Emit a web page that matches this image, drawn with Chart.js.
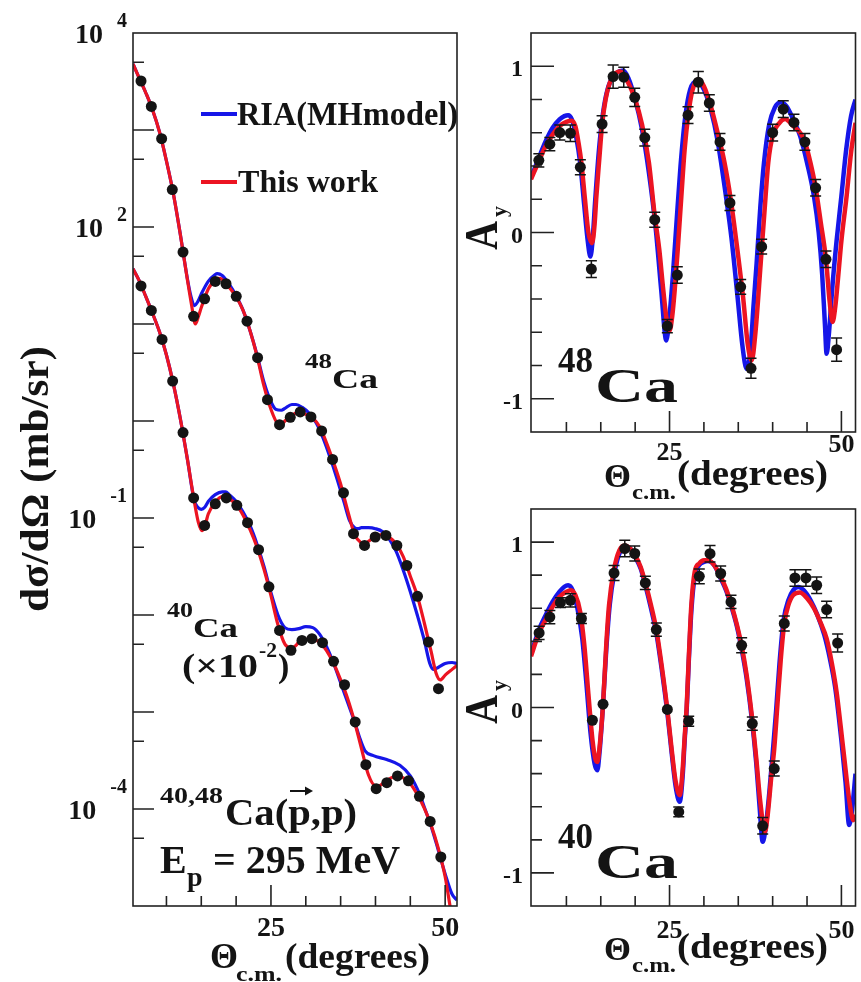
<!DOCTYPE html>
<html lang="en">
<head>
<meta charset="UTF-8">
<title>40,48Ca(p,p) at 295 MeV</title>
<script src="https://cdn.jsdelivr.net/npm/chart.js@4/dist/chart.umd.min.js"></script>
<style>
    body { margin: 0; background: #fff; }
    #wrap { position: relative; width: 861px; height: 982px; }
    canvas { position: absolute; }
</style>
</head>
<body>
<div id="wrap">
    <canvas id="xsec" width="465" height="982" style="left:0;top:0;width:465px;height:982px"></canvas>
    <canvas id="ay48" width="396" height="510" style="left:465px;top:0;width:396px;height:510px"></canvas>
    <canvas id="ay40" width="396" height="492" style="left:465px;top:490px;width:396px;height:492px"></canvas>
</div>

<script>
    // ---- cross sections (mb/sr), 40Ca already scaled by 1e-2 ----
    const th48Pts = [6.35, 7.83, 9.31, 10.84, 12.38, 13.9, 15.48, 17.01, 18.55, 20.02, 21.56, 23.08, 24.5, 26.23, 27.77, 29.2, 30.74, 32.27, 33.84, 35.41, 36.85, 38.43, 39.96, 41.5, 43.07, 44.5, 46.03, 47.61, 49.04];
    const xs48Pts = [3200, 1750, 813, 243, 55.2, 12.0, 18.2, 27.5, 26.0, 19.3, 10.7, 4.50, 1.66, 0.916, 1.09, 1.24, 1.10, 0.789, 0.402, 0.182, 0.0689, 0.0522, 0.0637, 0.0662, 0.0522, 0.0324, 0.0156, 0.00527, 0.00174];

    const th40Pts = [6.35, 7.83, 9.37, 10.89, 12.38, 13.9, 15.48, 17.01, 18.59, 20.1, 21.64, 23.22, 24.71, 26.23, 27.87, 29.45, 30.88, 32.4, 33.98, 35.56, 37.09, 38.62, 40.1, 41.63, 43.16, 44.74, 46.31, 47.85, 49.38];
    const xs40Pts = [24.7, 13.8, 6.93, 2.58, 0.759, 0.161, 0.0839, 0.140, 0.161, 0.135, 0.0895, 0.0471, 0.0195, 0.00693, 0.00432, 0.00547, 0.00570, 0.00518, 0.00333, 0.00191, 0.000789, 0.000286, 0.000162, 0.000187, 0.000219, 0.000195, 0.000135, 0.0000745, 0.0000320];

    const th48Red = [5.2, 6, 7, 8, 9, 10, 11, 12, 13, 13.6, 14.15, 14.6, 15, 15.5, 16, 17, 17.5, 18, 19, 20, 21, 22, 23, 24, 25, 26, 26.5, 27, 28, 29, 30, 31, 32, 33, 34, 35, 36, 37, 38, 38.5, 39, 40, 41, 42, 43, 44, 45, 46, 47, 48, 48.7, 49.3, 50, 51, 51.7];
    const xs48Red = [4790, 3550, 2450, 1620, 955, 479, 219, 83.2, 28.8, 15.8, 10.0, 12.0, 14.8, 18.6, 22.9, 28.8, 29.5, 28.8, 24.0, 19.1, 13.8, 8.51, 4.68, 2.29, 1.32, 0.933, 0.912, 1.00, 1.15, 1.23, 1.17, 1.07, 0.871, 0.589, 0.372, 0.224, 0.120, 0.0676, 0.0550, 0.0537, 0.0575, 0.0646, 0.0676, 0.0631, 0.0537, 0.0398, 0.0251, 0.0158, 0.00832, 0.00417, 0.00251, 0.00214, 0.00240, 0.00275, 0.00302];

    const th48Blue = [5.2, 6, 7, 8, 9, 10, 11, 12, 13, 13.5, 14.0, 14.5, 15, 16, 17, 17.3, 18, 19, 20, 21, 22, 23, 24, 25, 25.7, 26.5, 27, 28, 28.6, 29.5, 30.5, 31.5, 32.5, 33.5, 34.5, 35.5, 36.3, 37, 37.5, 38, 39, 40, 41, 42, 43, 44, 45, 46, 47, 47.8, 48.3, 49, 50, 51, 51.7];
    const xs48Blue = [4790, 3550, 2450, 1620, 955, 479, 219, 83.2, 29.5, 19.5, 15.5, 17.0, 20.4, 27.5, 32.4, 33.1, 31.6, 25.7, 19.5, 13.8, 8.51, 4.79, 2.51, 1.58, 1.32, 1.29, 1.35, 1.48, 1.48, 1.38, 1.20, 0.955, 0.661, 0.417, 0.251, 0.145, 0.0933, 0.0794, 0.0776, 0.0794, 0.0794, 0.0776, 0.0724, 0.0603, 0.0447, 0.0288, 0.0174, 0.0100, 0.00550, 0.00316, 0.00275, 0.00288, 0.00316, 0.00324, 0.00316];

    const th40Red = [5.2, 6, 7, 8, 9, 10, 11, 12, 13, 14, 14.6, 15.1, 15.6, 16, 17, 18, 18.5, 19, 20, 21, 22, 23, 24, 25, 26, 27, 28, 28.5, 29, 30, 31, 32, 33, 34, 35, 36, 37, 38, 39, 40, 40.5, 41, 42, 43, 44, 45, 46, 47, 48, 49, 50, 50.7, 51.7];
    const xs40Red = [37.2, 28.8, 19.5, 12.9, 8.32, 4.79, 2.40, 1.05, 0.407, 0.148, 0.0891, 0.0741, 0.0871, 0.110, 0.145, 0.166, 0.166, 0.158, 0.138, 0.107, 0.0759, 0.0501, 0.0295, 0.0158, 0.00794, 0.00501, 0.00457, 0.00479, 0.00525, 0.00562, 0.00562, 0.00525, 0.00427, 0.00316, 0.00214, 0.00138, 0.000794, 0.000417, 0.000224, 0.000174, 0.000174, 0.000182, 0.000204, 0.000219, 0.000209, 0.000182, 0.000141, 0.000102, 0.0000676, 0.0000398, 0.0000200, 0.0000100, 0.0000040];

    const th40Blue = [5.2, 6, 7, 8, 9, 10, 11, 12, 13, 14, 14.5, 15, 15.5, 16, 17, 18, 18.5, 19, 20, 21, 22, 23, 24, 25, 26, 26.5, 27, 28, 29, 30, 31, 32, 33, 34, 35, 36, 37, 37.8, 38.5, 39.7, 41.6, 43.5, 45, 46.4, 47, 48, 49, 50, 51, 51.7];
    const xs40Blue = [37.2, 28.8, 19.5, 12.9, 8.32, 4.79, 2.40, 1.05, 0.407, 0.151, 0.129, 0.123, 0.129, 0.148, 0.174, 0.186, 0.186, 0.174, 0.148, 0.115, 0.0832, 0.0537, 0.0316, 0.0170, 0.0100, 0.00832, 0.00741, 0.00708, 0.00724, 0.00759, 0.00741, 0.00631, 0.00468, 0.00316, 0.00200, 0.00126, 0.000794, 0.000525, 0.000398, 0.000355, 0.000324, 0.000282, 0.000219, 0.000138, 0.000105, 0.0000661, 0.0000380, 0.0000214, 0.0000132, 0.0000115];

    // ---- analyzing power, 48Ca ----
    const thAy48Pts = [5.99, 7.59, 9.04, 10.58, 12.03, 13.63, 15.19, 16.79, 18.34, 19.94, 21.4, 22.85, 24.68, 26.13, 27.69, 29.19, 30.79, 32.34, 33.79, 35.35, 36.85, 38.4, 40.0, 41.54, 43.1, 44.69, 46.25, 47.75, 49.3];
    const ay48Pts = [0.434, 0.531, 0.601, 0.597, 0.393, -0.22, 0.652, 0.938, 0.934, 0.813, 0.571, 0.077, -0.563, -0.256, 0.706, 0.904, 0.779, 0.545, 0.178, -0.327, -0.817, -0.085, 0.601, 0.742, 0.662, 0.545, 0.269, -0.161, -0.705];
    const ay48Err = [0.04, 0.04, 0.045, 0.05, 0.045, 0.05, 0.05, 0.07, 0.06, 0.055, 0.05, 0.045, 0.04, 0.05, 0.05, 0.065, 0.05, 0.05, 0.045, 0.045, 0.06, 0.045, 0.05, 0.05, 0.05, 0.05, 0.05, 0.05, 0.07];

    const thAy48Red = [4.85, 6, 7, 8, 9, 10, 10.73, 11.3, 11.8, 12.18, 12.7, 13.2, 13.74, 14.1, 14.36, 14.8, 15.19, 15.7, 16.3, 17, 17.76, 19, 20, 21, 22, 22.85, 23.5, 24.1, 24.6, 25.03, 25.4, 25.75, 26.2, 26.72, 27.2, 27.7, 28.3, 29.2, 30, 31, 32, 33, 33.9, 34.8, 35.7, 36.4, 36.95, 37.5, 38.26, 38.8, 39.36, 40, 41, 41.8, 43, 44, 44.7, 45.5, 46.25, 47, 47.75, 48.3, 48.72, 49.1, 49.5, 50, 50.76, 51.4, 52.05];
    const ay48Red = [0.32, 0.43, 0.52, 0.59, 0.64, 0.665, 0.672, 0.64, 0.53, 0.42, 0.2, 0.0, -0.064, 0.05, 0.218, 0.45, 0.65, 0.8, 0.9, 0.95, 0.968, 0.9, 0.8, 0.65, 0.42, 0.1, -0.1, -0.35, -0.53, -0.589, -0.5, -0.347, -0.1, 0.218, 0.5, 0.7, 0.85, 0.92, 0.88, 0.76, 0.6, 0.42, 0.2, -0.08, -0.39, -0.68, -0.77, -0.6, -0.185, 0.12, 0.42, 0.58, 0.66, 0.682, 0.64, 0.6, 0.545, 0.42, 0.27, 0.06, -0.16, -0.42, -0.538, -0.45, -0.28, -0.05, 0.22, 0.48, 0.66];

    const thAy48Blue = [4.85, 6, 7, 8, 9, 9.7, 10.25, 10.8, 11.4, 12, 12.6, 13.1, 13.49, 13.8, 14.2, 14.7, 15.2, 15.8, 16.5, 17.3, 18.24, 19, 20, 21, 22, 23, 23.8, 24.53, 25, 25.5, 26, 26.6, 27.3, 28, 29, 30, 31, 32, 33.2, 34, 34.9, 35.6, 36.22, 36.8, 37.2, 37.67, 38.2, 38.74, 39.5, 40.3, 41.16, 42, 43, 44, 45, 46, 46.7, 47.2, 47.6, 47.85, 48.2, 48.7, 49.3, 50, 50.7, 51.4, 52.05];
    const ay48Blue = [0.33, 0.45, 0.55, 0.63, 0.68, 0.70, 0.706, 0.68, 0.58, 0.42, 0.16, -0.05, -0.145, -0.05, 0.2, 0.48, 0.68, 0.83, 0.92, 0.96, 0.974, 0.93, 0.8, 0.62, 0.36, 0.02, -0.35, -0.649, -0.5, -0.25, 0.05, 0.4, 0.7, 0.86, 0.91, 0.86, 0.74, 0.55, 0.22, -0.03, -0.39, -0.68, -0.82, -0.7, -0.45, -0.185, 0.15, 0.42, 0.65, 0.75, 0.783, 0.76, 0.68, 0.58, 0.42, 0.22, 0.0, -0.25, -0.55, -0.73, -0.6, -0.32, -0.05, 0.22, 0.5, 0.7, 0.8];

    // ---- analyzing power, 40Ca ----
    const thAy40Pts = [6.03, 7.59, 9.13, 10.58, 12.18, 13.78, 15.33, 16.93, 18.49, 19.94, 21.48, 23.08, 24.68, 26.34, 27.79, 29.33, 30.89, 32.44, 33.94, 35.49, 37.04, 38.55, 40.23, 41.69, 43.24, 44.84, 46.4, 47.85, 49.45];
    const ay40Pts = [0.451, 0.547, 0.634, 0.648, 0.538, -0.077, 0.02, 0.813, 0.961, 0.931, 0.753, 0.471, -0.012, -0.631, -0.083, 0.793, 0.93, 0.81, 0.638, 0.376, -0.097, -0.715, -0.369, 0.508, 0.783, 0.783, 0.739, 0.592, 0.39];
    const ay40Err = [0.04, 0.04, 0.03, 0.04, 0.03, 0, 0, 0.045, 0.05, 0.045, 0.04, 0.04, 0, 0.03, 0.03, 0.045, 0.05, 0.045, 0.04, 0.045, 0.04, 0.05, 0.045, 0.045, 0.05, 0.05, 0.05, 0.05, 0.055];

    const thAy40Red = [4.85, 6, 7, 8, 9, 10, 10.64, 11.3, 12, 12.6, 13.2, 13.8, 14.2, 14.5, 14.8, 15.33, 15.8, 16.2, 16.9, 17.7, 18.49, 19.3, 20, 20.8, 21.48, 22.3, 23.08, 23.9, 24.68, 25.3, 25.9, 26.48, 26.9, 27.2, 27.5, 27.8, 28.17, 28.66, 29.3, 30, 30.64, 31.5, 32.44, 33.2, 34, 34.8, 35.5, 36.2, 37, 37.6, 38.2, 38.88, 39.3, 39.8, 40.23, 40.7, 41.2, 41.69, 42.3, 43, 43.97, 45, 46, 47, 47.85, 48.6, 49.3, 50.26, 51.24, 51.72, 52.05];
    const ay40Red = [0.31, 0.45, 0.53, 0.61, 0.67, 0.7, 0.709, 0.68, 0.58, 0.38, 0.08, -0.2, -0.31, -0.329, -0.25, 0.02, 0.38, 0.618, 0.83, 0.95, 0.98, 0.96, 0.92, 0.85, 0.753, 0.62, 0.471, 0.24, -0.012, -0.25, -0.45, -0.53, -0.38, -0.18, 0.01, 0.3, 0.618, 0.82, 0.87, 0.89, 0.89, 0.86, 0.79, 0.72, 0.62, 0.5, 0.37, 0.2, -0.06, -0.3, -0.57, -0.751, -0.64, -0.42, -0.25, 0.02, 0.3, 0.508, 0.62, 0.68, 0.695, 0.66, 0.6, 0.51, 0.417, 0.27, 0.094, -0.248, -0.59, -0.681, -0.65];

    const thAy40Blue = [4.85, 6, 7, 8, 9, 9.7, 10.25, 10.9, 11.6, 12.3, 12.9, 13.5, 14.1, 14.5, 14.8, 15.3, 15.8, 16.3, 17, 17.8, 18.5, 19.3, 20, 20.8, 21.48, 22.3, 23.08, 23.9, 24.68, 25.3, 25.9, 26.48, 26.9, 27.2, 27.5, 27.8, 28.2, 28.7, 29.3, 30, 30.6, 31.5, 32.44, 33.2, 34, 34.8, 35.5, 36.2, 37, 37.6, 38.1, 38.55, 39.0, 39.5, 40.0, 40.5, 41.0, 41.6, 42.3, 43, 43.72, 44.5, 45.5, 46.5, 47.5, 48.3, 49.1, 50, 50.6, 51.13, 51.6, 52.05];
    const ay40Blue = [0.32, 0.47, 0.56, 0.64, 0.70, 0.73, 0.739, 0.71, 0.6, 0.42, 0.15, -0.15, -0.34, -0.379, -0.28, 0.0, 0.35, 0.62, 0.82, 0.94, 0.975, 0.96, 0.91, 0.84, 0.74, 0.6, 0.45, 0.22, -0.03, -0.27, -0.48, -0.57, -0.42, -0.2, -0.01, 0.28, 0.6, 0.8, 0.86, 0.88, 0.885, 0.86, 0.78, 0.71, 0.61, 0.49, 0.35, 0.18, -0.08, -0.33, -0.6, -0.812, -0.72, -0.52, -0.28, -0.02, 0.27, 0.53, 0.65, 0.71, 0.729, 0.71, 0.65, 0.56, 0.44, 0.3, 0.12, -0.2, -0.45, -0.711, -0.6, -0.4];

    // ---- axes ----
    const xMajor = [25, 50];
    const xMinor = [10, 15, 20, 30, 35, 40, 45];
    const xTickText = ['25', '50'];
    const logMajor = [1e-4, 1e-3, 1e-2, 1e-1, 1, 10, 100, 1000];
    const logMinor = [5e-5, 5e-4, 5e-3, 5e-2, 0.5, 5, 50, 500, 5000];
    const logLabelVals = [1e4, 1e2, 1e-1, 1e-4];
    const logLabelExp = ['4', '2', '-1', '-4'];
    const ayMajor = [-1, 0, 1];
    const ayMinor = [-0.8, -0.6, -0.4, -0.2, 0.2, 0.4, 0.6, 0.8];
    const ayTickText = ['-1', '0', '1'];

    const BLUE = '#1616e8';
    const RED = '#ec1422';
    const INK = '#141414';
    const SERIF = '"Liberation Serif", "DejaVu Serif", serif';

    function pts(xs, ys) {
        return xs.map((x, i) => ({x: x, y: ys[i]}));
    }

    function curve(xs, ys, color, width, order) {
        return {
            data: pts(xs, ys), showLine: true, borderColor: color, borderWidth: width,
            pointRadius: 0, fill: false, cubicInterpolationMode: 'monotone', order: order
        };
    }

    function dots(xs, ys, r) {
        return {
            data: pts(xs, ys), showLine: false, pointRadius: r,
            pointBackgroundColor: INK, pointBorderWidth: 0, order: 0
        };
    }

    // bold serif text, optionally squeezed/stretched to a given width
    function label(ctx, s, x, y, size, o) {
        o = o || {};
        ctx.save();
        ctx.font = 'bold ' + size + 'px ' + SERIF;
        ctx.fillStyle = INK;
        ctx.textBaseline = 'alphabetic';
        const w = ctx.measureText(s).width;
        const sx = o.w ? o.w / w : 1;
        ctx.translate(x, y);
        if (o.rot) ctx.rotate(o.rot);
        ctx.scale(sx, 1);
        let dx = 0;
        if (o.align === 'right') dx = -w;
        else if (o.align === 'center') dx = -w / 2;
        ctx.fillText(s, dx, 0);
        ctx.restore();
        return w * sx;
    }

    function frameAndTicks(chart, t) {
        const ctx = chart.ctx, a = chart.chartArea, xs = chart.scales.x, ys = chart.scales.y;
        ctx.save();
        ctx.strokeStyle = '#222';
        ctx.lineWidth = 1.6;
        ctx.strokeRect(a.left, a.top, a.right - a.left, a.bottom - a.top);
        ctx.beginPath();
        xMajor.forEach(v => { const p = xs.getPixelForValue(v); ctx.moveTo(p, a.bottom); ctx.lineTo(p, a.bottom - 21); });
        xMinor.forEach(v => { const p = xs.getPixelForValue(v); ctx.moveTo(p, a.bottom); ctx.lineTo(p, a.bottom - 10); });
        t.yMajor.forEach(v => { const p = ys.getPixelForValue(v); ctx.moveTo(a.left, p); ctx.lineTo(a.left + t.majLen, p); });
        t.yMinor.forEach(v => { const p = ys.getPixelForValue(v); ctx.moveTo(a.left, p); ctx.lineTo(a.left + 11, p); });
        ctx.stroke();
        ctx.restore();
    }

    function errorBars(chart, xs, ys, err) {
        const ctx = chart.ctx, sx = chart.scales.x, sy = chart.scales.y;
        ctx.save();
        ctx.strokeStyle = INK;
        ctx.lineWidth = 1.5;
        ctx.beginPath();
        xs.forEach((x, i) => {
            if (!err[i]) return;
            const px = sx.getPixelForValue(x);
            const p1 = sy.getPixelForValue(ys[i] - err[i]);
            const p2 = sy.getPixelForValue(ys[i] + err[i]);
            ctx.moveTo(px, p1); ctx.lineTo(px, p2);
            ctx.moveTo(px - 5.5, p1); ctx.lineTo(px + 5.5, p1);
            ctx.moveTo(px - 5.5, p2); ctx.lineTo(px + 5.5, p2);
        });
        ctx.stroke();
        ctx.restore();
    }

    function baseOptions(xr, yScale, pad) {
        return {
            responsive: false,
            animation: false,
            events: [],
            layout: {padding: pad},
            plugins: {legend: {display: false}, tooltip: {enabled: false}},
            scales: {
                x: {type: 'linear', min: xr[0], max: xr[1], display: false},
                y: Object.assign({display: false}, yScale)
            }
        };
    }

    // ---------- left: cross sections ----------
    new Chart(document.getElementById('xsec'), {
        type: 'scatter',
        data: {
            datasets: [
                dots(th48Pts, xs48Pts, 5.5),
                dots(th40Pts, xs40Pts, 5.5),
                curve(th48Red, xs48Red, RED, 3.2, 1),
                curve(th40Red, xs40Red, RED, 3.2, 1),
                curve(th48Blue, xs48Blue, BLUE, 3.2, 2),
                curve(th40Blue, xs40Blue, BLUE, 3.2, 2)
            ]
        },
        options: baseOptions([5.2, 51.7], {type: 'logarithmic', min: 1e-5, max: 1e4},
            {left: 133, right: 8, top: 33, bottom: 76}),
        plugins: [{
            id: 'xsecDeco',
            afterDatasetsDraw(chart) {
                frameAndTicks(chart, {yMajor: logMajor, yMinor: logMinor, majLen: 21});
            },
            afterDraw(chart) {
                const ctx = chart.ctx, xs = chart.scales.x, ys = chart.scales.y;
                // y tick labels 10^n
                logLabelVals.forEach((v, i) => {
                    const py = ys.getPixelForValue(v);
                    const neg = logLabelExp[i].charAt(0) === '-';
                    const sw = label(ctx, logLabelExp[i], 127, py + (neg ? -16 : -6), 20, {align: 'right'});
                    label(ctx, '10', 127 - sw - 14, py + 10, 28, {align: 'right'});
                });
                xMajor.forEach((v, i) => label(ctx, xTickText[i], xs.getPixelForValue(v), 936, 28, {align: 'center'}));

                // axis titles
                label(ctx, 'd\u03C3/d\u03A9 (mb/sr)', 48, 479, 40, {rot: -Math.PI / 2, align: 'center', w: 266});
                label(ctx, '\u0398', 210, 968, 36);
                label(ctx, 'c.m.', 236, 981, 20, {w: 46});
                label(ctx, '(degrees)', 285, 968, 36, {w: 145});

                // legend
                ctx.save();
                ctx.lineWidth = 4;
                ctx.strokeStyle = BLUE;
                ctx.beginPath(); ctx.moveTo(201, 114); ctx.lineTo(237, 114); ctx.stroke();
                ctx.strokeStyle = RED;
                ctx.beginPath(); ctx.moveTo(201, 182); ctx.lineTo(237, 182); ctx.stroke();
                ctx.restore();
                label(ctx, 'RIA(MHmodel)', 237, 125, 33, {w: 221});
                label(ctx, 'This work', 238, 192, 32, {w: 140});

                // nucleus tags
                label(ctx, '48', 305, 368, 20, {w: 27});
                label(ctx, 'Ca', 332, 388, 28, {w: 46});
                label(ctx, '40', 167, 617, 20, {w: 26});
                label(ctx, 'Ca', 193, 637, 28, {w: 45});
                label(ctx, '(\u00D710', 182, 677, 34, {w: 76});
                label(ctx, '-2', 259, 657, 20, {w: 18});
                label(ctx, ')', 278, 677, 34);

                // reaction and energy
                label(ctx, '40,48', 160, 803, 24, {w: 63});
                label(ctx, 'Ca(p,p)', 225, 825, 38, {w: 132});
                ctx.save();
                ctx.strokeStyle = INK;
                ctx.fillStyle = INK;
                ctx.lineWidth = 2;
                ctx.beginPath(); ctx.moveTo(290, 791); ctx.lineTo(310, 791); ctx.stroke();
                ctx.beginPath(); ctx.moveTo(313, 791); ctx.lineTo(305, 786.5); ctx.lineTo(305, 795.5); ctx.closePath(); ctx.fill();
                ctx.restore();
                label(ctx, 'E', 160, 873, 40);
                label(ctx, 'p', 187, 886, 28);
                label(ctx, '= 295 MeV', 213, 873, 40, {w: 187});
            }
        }]
    });

    // ---------- right: analyzing powers ----------
    function ayChart(id, oy, thP, ayP, errP, thR, ayR, thB, ayB, pad, txt) {
        new Chart(document.getElementById(id), {
            type: 'scatter',
            data: {
                datasets: [
                    dots(thP, ayP, 5.5),
                    curve(thR, ayR, RED, 4.5, 1),
                    curve(thB, ayB, BLUE, 4.5, 2)
                ]
            },
            options: baseOptions([4.85, 52.05], {type: 'linear', min: -1.2, max: 1.2}, pad),
            plugins: [{
                id: id + 'Deco',
                afterDatasetsDraw(chart) {
                    errorBars(chart, thP, ayP, errP);
                    frameAndTicks(chart, {yMajor: ayMajor, yMinor: ayMinor, majLen: 23});
                },
                afterDraw(chart) {
                    const ctx = chart.ctx, xs = chart.scales.x, ys = chart.scales.y;
                    ayMajor.forEach((v, i) => label(ctx, ayTickText[i], 58, ys.getPixelForValue(v) + 10, 24, {align: 'right'}));
                    xMajor.forEach((v, i) => label(ctx, xTickText[i], xs.getPixelForValue(v), txt.tickY[i], 26, {align: 'center'}));
                    ctx.save();
                    ctx.translate(-465, -oy);
                    label(ctx, 'A', 497, txt.aY, 46, {rot: -Math.PI / 2, w: 29});
                    label(ctx, 'y', 506, txt.aY - 33, 22, {rot: -Math.PI / 2});
                    label(ctx, txt.mass, 558, txt.caY - 30, 36, {w: 35});
                    label(ctx, 'Ca', 595, txt.caY, 48, {w: 83});
                    label(ctx, '\u0398', 604, txt.thY + 2, 34, {w: 27});
                    label(ctx, 'c.m.', 632, txt.thY + 14, 22, {w: 44});
                    label(ctx, '(degrees)', 677, txt.thY, 36, {w: 151});
                    ctx.restore();
                }
            }]
        });
    }

    ayChart('ay48', 0, thAy48Pts, ay48Pts, ay48Err, thAy48Red, ay48Red, thAy48Blue, ay48Blue,
        {left: 66, right: 5, top: 33, bottom: 78},
        {tickY: [460, 452], aY: 250, mass: '48', caY: 402, thY: 485});

    ayChart('ay40', 490, thAy40Pts, ay40Pts, ay40Err, thAy40Red, ay40Red, thAy40Blue, ay40Blue,
        {left: 66, right: 5, top: 19, bottom: 76},
        {tickY: [448, 448], aY: 724, mass: '40', caY: 878, thY: 958});
</script>
</body>
</html>
